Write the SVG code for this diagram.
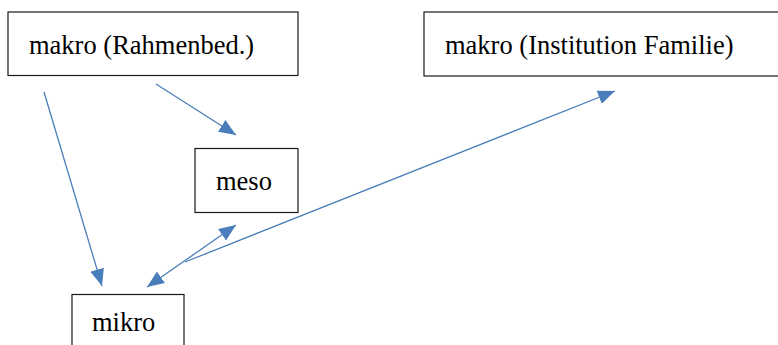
<svg xmlns="http://www.w3.org/2000/svg" width="778" height="345" viewBox="0 0 778 345">
  <style>
    .box { fill: #ffffff; stroke: #1a1a1a; stroke-width: 1.2; }
    .lbl { font-family: "Liberation Serif", "Times New Roman", serif; font-size: 26.5px; fill: #000000; }
    .conn { stroke: #4a7ebb; stroke-width: 1.3; fill: none; }
  </style>
  <defs>
    <marker id="arr" markerUnits="userSpaceOnUse" markerWidth="18" markerHeight="14" viewBox="0 0 18 14" refX="17" refY="7" orient="auto-start-reverse">
      <path d="M0,0 L17,7 L0,14 Z" fill="#4a7ebb"/>
    </marker>
  </defs>
  <rect width="778" height="345" fill="#ffffff"/>
  <g id="connectors">
    <line class="conn" x1="44" y1="92" x2="102" y2="286" marker-end="url(#arr)"/>
    <line class="conn" x1="156" y1="84" x2="236" y2="135" marker-end="url(#arr)"/>
    <line class="conn" x1="147" y1="287" x2="236" y2="225" marker-start="url(#arr)" marker-end="url(#arr)"/>
    <line class="conn" x1="185" y1="262" x2="615" y2="91" marker-end="url(#arr)"/>
  </g>
  <g id="node-makro-rahmen">
    <rect class="box" x="8" y="12" width="290" height="63.5"/>
    <text class="lbl" x="29" y="54">makro (Rahmenbed.)</text>
  </g>
  <g id="node-makro-familie">
    <rect class="box" x="424" y="12" width="370" height="64"/>
    <text class="lbl" x="445" y="54">makro (Institution Familie)</text>
  </g>
  <g id="node-meso">
    <rect class="box" x="195" y="148.5" width="103" height="64"/>
    <text class="lbl" x="216" y="190">meso</text>
  </g>
  <g id="node-mikro">
    <rect class="box" x="72" y="294.5" width="112" height="70"/>
    <text class="lbl" x="92" y="331">mikro</text>
  </g>
</svg>
